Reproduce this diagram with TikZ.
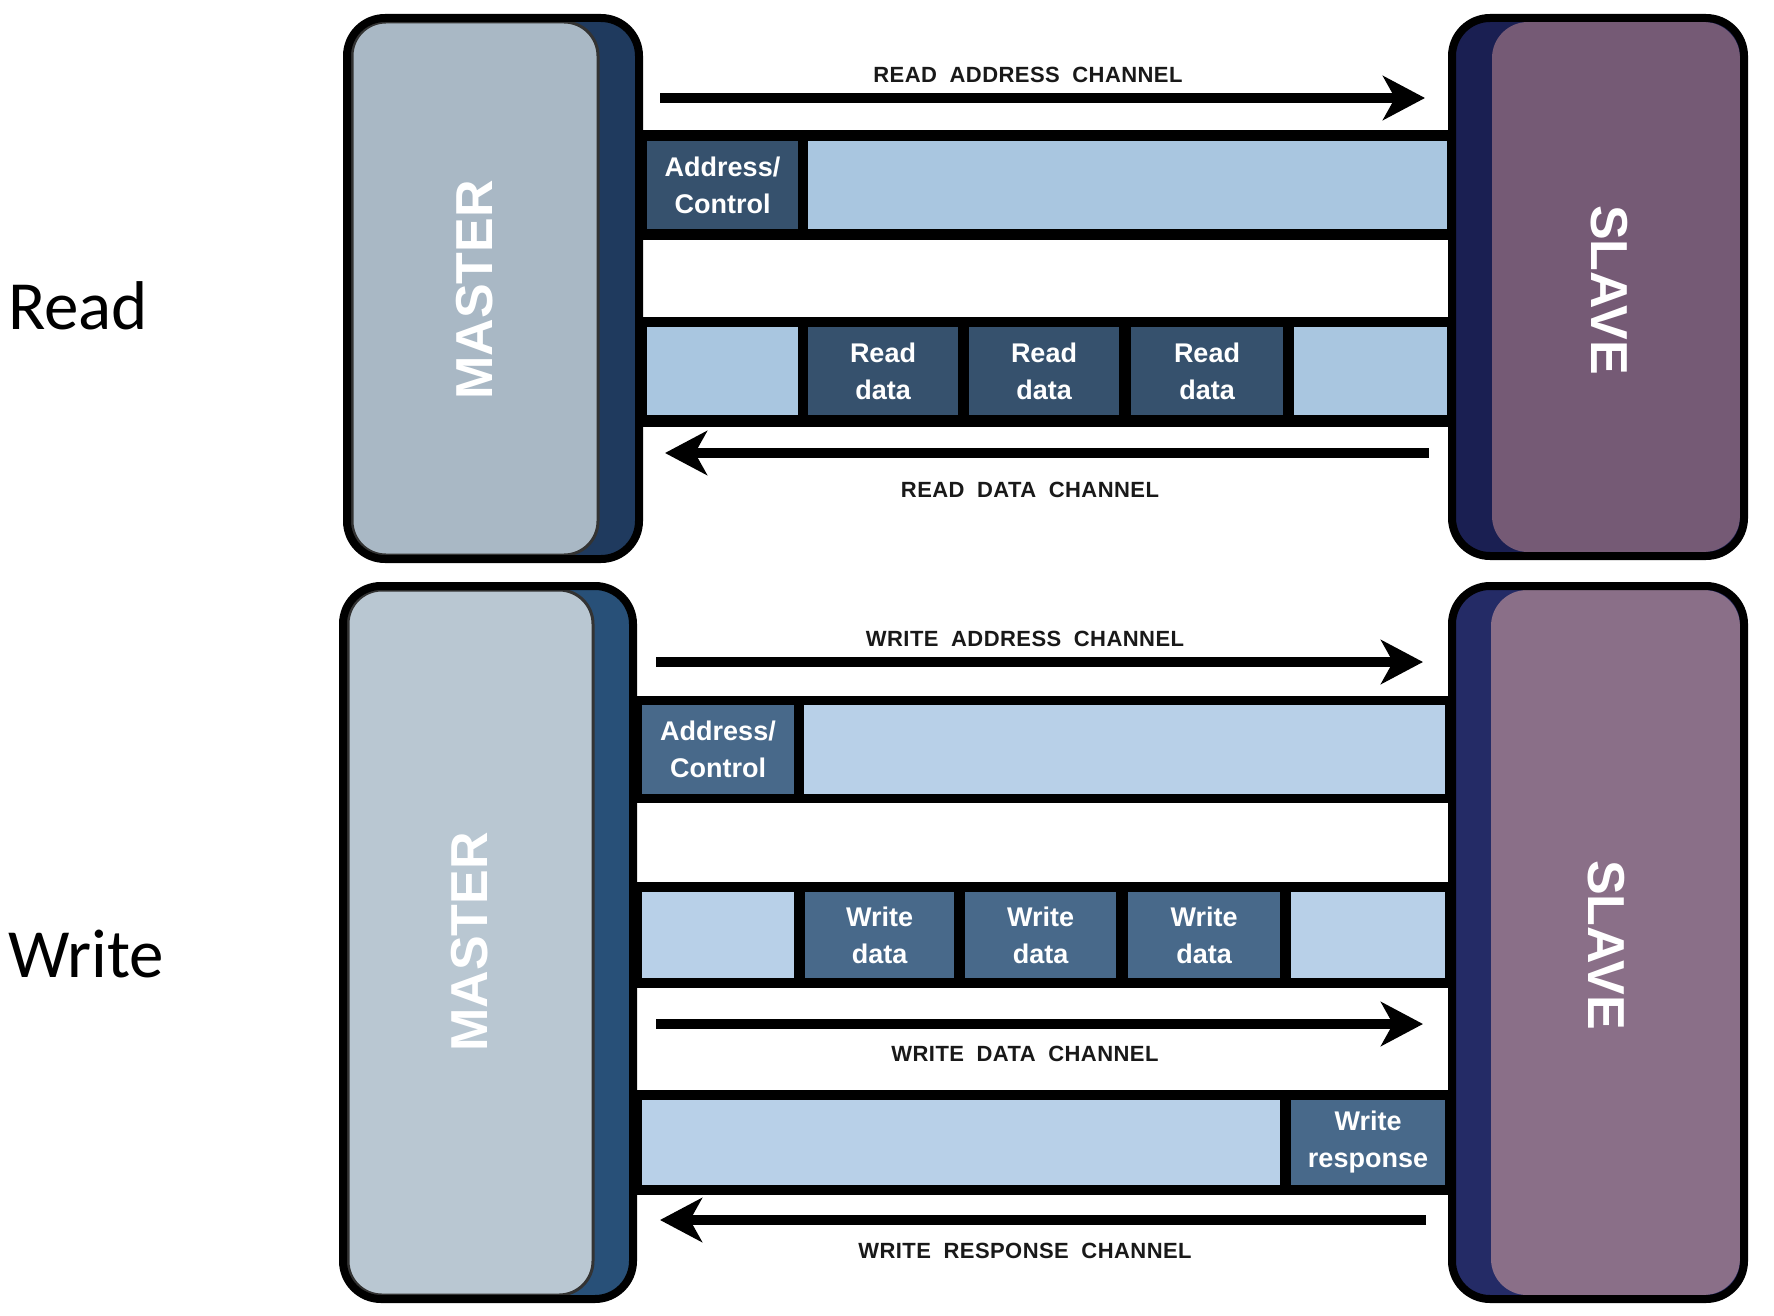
\documentclass[tikz,border=0pt]{standalone}
\usepackage{fontspec}
\setmainfont{Liberation Sans}
\newfontfamily\carlitofont{Carlito}
\newfontfamily\chanfont[LetterSpace=2]{Liberation Sans Bold}
\usetikzlibrary{arrows.meta}
\definecolor{mlightA}{HTML}{A9B8C5}
\definecolor{mstripA}{HTML}{1F3A5E}
\definecolor{mlightB}{HTML}{B9C7D2}
\definecolor{mstripB}{HTML}{285078}
\definecolor{spurpA}{HTML}{755A75}
\definecolor{sstripA}{HTML}{1A1F52}
\definecolor{spurpB}{HTML}{8A6F88}
\definecolor{sstripB}{HTML}{242B66}
\definecolor{bandlightA}{HTML}{A9C6E0}
\definecolor{bandlightB}{HTML}{B8D0E8}
\definecolor{celldarkA}{HTML}{36516D}
\definecolor{celldarkB}{HTML}{48698A}
\newcommand\wsp{\hspace{6pt} }
\begin{document}
\begin{tikzpicture}[x=1pt,y=-1pt,
  cell/.style={inner sep=0pt, outer sep=0pt, align=center, draw=none,
    font=\bfseries\fontsize{27}{37}\selectfont},
  lightA/.style={cell, fill=bandlightA},
  lightB/.style={cell, fill=bandlightB},
  darkA/.style={cell, fill=celldarkA, text=white},
  darkB/.style={cell, fill=celldarkB, text=white},
  chan/.style={line width=10pt, -{Stealth[length=42pt,width=44pt,inset=12pt]}},
  chanlabel/.style={inner sep=0pt, text=black!90, font=\chanfont\fontsize{22}{26}\selectfont},
  bigtext/.style={inner sep=0pt, text=white, font=\bfseries\fontsize{52}{60}\selectfont},
  sidelabel/.style={inner sep=0pt, anchor=west, font=\carlitofont\fontsize{69}{80}\selectfont},
  outline/.style={draw=black, line width=8pt, rounded corners=38pt},
  innerline/.style={draw=black!80, line width=3pt, rounded corners=34pt}
]
\useasboundingbox (0,0) rectangle (1774,1316);
\fill[white] (0,0) rectangle (1774,1316);

% ================= READ =================
% bands
\fill[black] (640,130) rectangle (1450,240);
\fill[black] (640,317) rectangle (1450,427);
\node[darkA, minimum width=151pt, minimum height=88pt] (rac) at (722.5,185) {Address/\\Control};
\node[lightA, minimum width=639pt, minimum height=88pt] (ral) at (1127.5,185) {};
\node[lightA, minimum width=151pt, minimum height=88pt] (rd0) at (722.5,371) {};
\node[darkA, minimum width=150pt, minimum height=88pt] (rd1) at (883,371) {Read\\data};
\node[darkA, minimum width=150pt, minimum height=88pt] (rd2) at (1044,371) {Read\\data};
\node[darkA, minimum width=152pt, minimum height=88pt] (rd3) at (1207,371) {Read\\data};
\node[lightA, minimum width=153pt, minimum height=88pt] (rd4) at (1370.5,371) {};

% master (read)
\fill[mstripA, rounded corners=38pt] (347,18) rectangle (639,559);
\filldraw[fill=mlightA, innerline] (352,22) rectangle (598,555);
\draw[outline] (347,18) rectangle (639,559);
\node[bigtext, rotate=90] (mA) at (474.5,290) {MASTER};

% slave (read)
\fill[sstripA, rounded corners=38pt] (1452,18) rectangle (1744,556);
\fill[spurpA, rounded corners=36pt] (1492,22) rectangle (1740,552);
\draw[outline] (1452,18) rectangle (1744,556);
\node[bigtext, rotate=-90] (sA) at (1609,290) {SLAVE};

% channels
\coordinate (raS) at (660,98);
\coordinate (raE) at (1425,98);
\draw[chan] (raS) -- (raE);
\node[chanlabel] (raL) at (1028,75) {READ\wsp ADDRESS\wsp CHANNEL};
\coordinate (rdS) at (1429,453);
\coordinate (rdE) at (665,453);
\draw[chan] (rdS) -- (rdE);
\node[chanlabel] (rdL) at (1030,490) {READ\wsp DATA\wsp CHANNEL};

\node[sidelabel] (readlab) at (8,306) {Read};

% ================= WRITE =================
\fill[black] (635,696) rectangle (1450,803);
\fill[black] (635,882) rectangle (1450,988);
\fill[black] (635,1090) rectangle (1450,1195);
\node[darkB, minimum width=152pt, minimum height=89pt] (wac) at (718,749.5) {Address/\\Control};
\node[lightB, minimum width=641pt, minimum height=89pt] (wal) at (1124.5,749.5) {};
\node[lightB, minimum width=152pt, minimum height=86pt] (wd0) at (718,935) {};
\node[darkB, minimum width=149pt, minimum height=86pt] (wd1) at (879.5,935) {Write\\data};
\node[darkB, minimum width=151pt, minimum height=86pt] (wd2) at (1040.5,935) {Write\\data};
\node[darkB, minimum width=152pt, minimum height=86pt] (wd3) at (1204,935) {Write\\data};
\node[lightB, minimum width=154pt, minimum height=86pt] (wd4) at (1368,935) {};
\node[lightB, minimum width=638pt, minimum height=85pt] (wr0) at (961,1142.5) {};
\node[darkB, minimum width=154pt, minimum height=85pt] (wr1) at (1368,1142.5) {Write\\response};

% master (write)
\fill[mstripB, rounded corners=38pt] (343,586) rectangle (633,1299);
\filldraw[fill=mlightB, innerline] (348,590) rectangle (593,1295);
\draw[outline] (343,586) rectangle (633,1299);
\node[bigtext, rotate=90] (mB) at (470,942) {MASTER};

% slave (write)
\fill[sstripB, rounded corners=38pt] (1452,586) rectangle (1744,1299);
\fill[spurpB, rounded corners=36pt] (1491,590) rectangle (1740,1295);
\draw[outline] (1452,586) rectangle (1744,1299);
\node[bigtext, rotate=-90] (sB) at (1606,945) {SLAVE};

% channels
\coordinate (waS) at (656,662);
\coordinate (waE) at (1423,662);
\draw[chan] (waS) -- (waE);
\node[chanlabel] (waL) at (1025,639) {WRITE\wsp ADDRESS\wsp CHANNEL};
\coordinate (wdS) at (656,1024);
\coordinate (wdE) at (1423,1024);
\draw[chan] (wdS) -- (wdE);
\node[chanlabel] (wdL) at (1025,1054) {WRITE\wsp DATA\wsp CHANNEL};
\coordinate (wrS) at (1426,1220);
\coordinate (wrE) at (660,1220);
\draw[chan] (wrS) -- (wrE);
\node[chanlabel] (wrL) at (1025,1251) {WRITE\wsp RESPONSE\wsp CHANNEL};

\node[sidelabel] (writelab) at (8,954) {Write};
\end{tikzpicture}
\end{document}
